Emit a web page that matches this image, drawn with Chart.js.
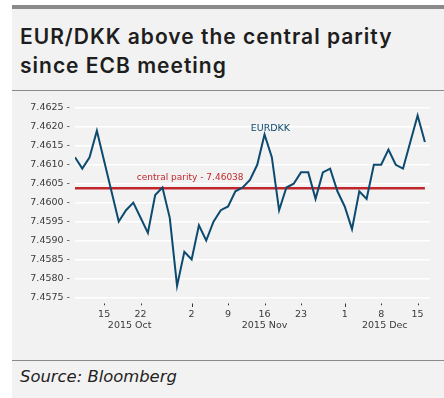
<!DOCTYPE html>
<html>
<head>
<meta charset="utf-8">
<script src="https://cdn.jsdelivr.net/npm/chart.js@4.4.1/dist/chart.umd.min.js"></script>
<style>
  html, body { margin: 0; padding: 0; background: #fff; }
  body { width: 444px; height: 398px; position: relative; overflow: hidden; font-family: "DejaVu Sans", sans-serif; }
  #panel { position: absolute; left: 12px; top: 5px; width: 432px; height: 393px; background: #f2f2f2; }
  #topbar { position: absolute; left: 12px; top: 5px; width: 432px; height: 4px; background: #8a8a8a; }
  #title { position: absolute; left: 20px; top: 22px; font-family: Inter, sans-serif; font-size: 21px; line-height: 29px; font-weight: 600; letter-spacing: 1px; color: #1e1e1e; white-space: nowrap; }
  .rule { position: absolute; left: 12px; width: 432px; height: 1px; background: #8a8a8a; }
  #chartbox { position: absolute; left: 0; top: 91px; width: 444px; height: 267px; }
  #source { position: absolute; left: 20px; top: 367px; font-size: 16.4px; font-style: italic; color: #222; }
</style>
</head>
<body>
<div id="panel"></div>
<div id="topbar"></div>
<div id="title">EUR/DKK above the central parity<br>since ECB meeting</div>
<div class="rule" style="top:90px"></div>
<div id="chartbox"><canvas id="c" width="444" height="267"></canvas></div>
<div class="rule" style="top:360px"></div>
<div id="source">Source: Bloomberg</div>
<script>
// trading days, 9 Oct - 16 Dec 2015
const dates = [
  "2015-10-09",
  "2015-10-12", "2015-10-13", "2015-10-14", "2015-10-15", "2015-10-16",
  "2015-10-19", "2015-10-20", "2015-10-21", "2015-10-22", "2015-10-23",
  "2015-10-26", "2015-10-27", "2015-10-28", "2015-10-29", "2015-10-30",
  "2015-11-02", "2015-11-03", "2015-11-04", "2015-11-05", "2015-11-06",
  "2015-11-09", "2015-11-10", "2015-11-11", "2015-11-12", "2015-11-13",
  "2015-11-16", "2015-11-17", "2015-11-18", "2015-11-19", "2015-11-20",
  "2015-11-23", "2015-11-24", "2015-11-25", "2015-11-26", "2015-11-27",
  "2015-11-30",
  "2015-12-01", "2015-12-02", "2015-12-03", "2015-12-04",
  "2015-12-07", "2015-12-08", "2015-12-09", "2015-12-10", "2015-12-11",
  "2015-12-14", "2015-12-15", "2015-12-16",
];
const eurdkk = [
  7.4612,
  7.4609, 7.4612, 7.4619, 7.4611, 7.4603,
  7.4595, 7.4598, 7.4600, 7.4596, 7.4592,
  7.4602, 7.4604, 7.4596, 7.4578, 7.4587,
  7.4585, 7.4594, 7.4590, 7.4595, 7.4598,
  7.4599, 7.4603, 7.4604, 7.4606, 7.4610,
  7.4618, 7.4612, 7.4598, 7.4604, 7.4605,
  7.4608, 7.4608, 7.4601, 7.4608, 7.4609,
  7.4603,
  7.4599, 7.4593, 7.4603, 7.4601,
  7.4610, 7.4610, 7.4614, 7.4610, 7.4609,
  7.4616, 7.4623, 7.4616,
];
const centralParity = 7.46038;
const yTicks = [7.4575, 7.4580, 7.4585, 7.4590, 7.4595, 7.4600, 7.4605, 7.4610, 7.4615, 7.4620, 7.4625];
const xTickDates = ["2015-10-15", "2015-10-22", "2015-11-02", "2015-11-09", "2015-11-16", "2015-11-23", "2015-12-01", "2015-12-08", "2015-12-15"];
const monthKeys = ["2015-10", "2015-11", "2015-12"];
const monthLabels = ["2015 Oct", "2015 Nov", "2015 Dec"];

const BLUE = "#0d4a70";
const RED = "#c0272d";
const AXIS_TXT = "#3a3a3a";
const FONT = "DejaVu Sans";

const isMonthStart = (i) => i > 0 && dates[i].slice(0, 7) !== dates[i - 1].slice(0, 7);

const extras = {
  id: "extras",
  afterDatasetsDraw(chart) {
    const { ctx, chartArea, scales: { x, y } } = chart;
    ctx.save();
    // small x tick marks, taller at month starts
    ctx.strokeStyle = "#333";
    ctx.lineWidth = 1;
    x.ticks.forEach((t) => {
      const px = Math.round(x.getPixelForValue(t.value)) + 0.5;
      const len = isMonthStart(t.value) ? 3.5 : 1.8;
      ctx.beginPath();
      ctx.moveTo(px, chartArea.bottom + 0.5);
      ctx.lineTo(px, chartArea.bottom + 0.5 + len);
      ctx.stroke();
    });
    // month labels centred on each month's span
    ctx.font = `9.5px "${FONT}"`;
    ctx.fillStyle = AXIS_TXT;
    ctx.textAlign = "center";
    ctx.textBaseline = "middle";
    monthKeys.forEach((k, i) => {
      const idx = dates.map((d, j) => (d.startsWith(k) ? j : -1)).filter((j) => j >= 0);
      const cx = (x.getPixelForValue(idx[0]) + x.getPixelForValue(idx[idx.length - 1])) / 2;
      ctx.fillText(monthLabels[i], cx, chartArea.bottom + 23);
    });
    // annotations
    ctx.font = `9px "${FONT}"`;
    ctx.fillStyle = RED;
    ctx.fillText("central parity - " + centralParity, x.getPixelForValue(15.8), y.getPixelForValue(centralParity) - 11);
    ctx.font = `9.5px "${FONT}"`;
    ctx.fillStyle = BLUE;
    ctx.fillText("EURDKK", x.getPixelForValue(26.8), y.getPixelForValue(7.46195));
    ctx.restore();
  },
};

new Chart(document.getElementById("c"), {
  type: "line",
  data: {
    datasets: [
      {
        data: eurdkk.map((v, i) => ({ x: i, y: v })),
        borderColor: BLUE,
        borderWidth: 2,
        pointRadius: 0,
        tension: 0,
        order: 1,
      },
      {
        data: [{ x: 0, y: centralParity }, { x: dates.length - 1, y: centralParity }],
        borderColor: RED,
        borderWidth: 2.5,
        pointRadius: 0,
        order: 2,
      },
    ],
  },
  options: {
    responsive: false,
    animation: false,
    devicePixelRatio: 1,
    layout: { padding: { top: 17, right: 14, left: 0, bottom: 0 } },
    plugins: { legend: { display: false }, tooltip: { enabled: false } },
    scales: {
      x: {
        type: "linear",
        min: 0,
        max: dates.length - 1 + 0.7,
        afterBuildTicks: (s) => { s.ticks = xTickDates.map((d) => ({ value: dates.indexOf(d) })); },
        afterFit: (s) => { s.height = 55; },
        grid: { display: false, drawTicks: false },
        border: { display: false },
        ticks: {
          autoSkip: false,
          maxRotation: 0,
          padding: 6,
          color: AXIS_TXT,
          font: { family: FONT, size: 9.5 },
          callback: (v) => String(Number(dates[v].slice(8))),
        },
      },
      y: {
        min: 7.45735,
        max: 7.4625,
        afterBuildTicks: (s) => { s.ticks = yTicks.map((v) => ({ value: v })); },
        afterFit: (s) => { s.width = 75; },
        grid: { color: "#ffffff", lineWidth: 1.5, drawTicks: false },
        border: { display: false },
        ticks: {
          padding: 5,
          color: AXIS_TXT,
          font: { family: FONT, size: 9.5 },
          callback: (v) => v.toFixed(4) + " -",
        },
      },
    },
  },
  plugins: [extras],
});
</script>
</body>
</html>
